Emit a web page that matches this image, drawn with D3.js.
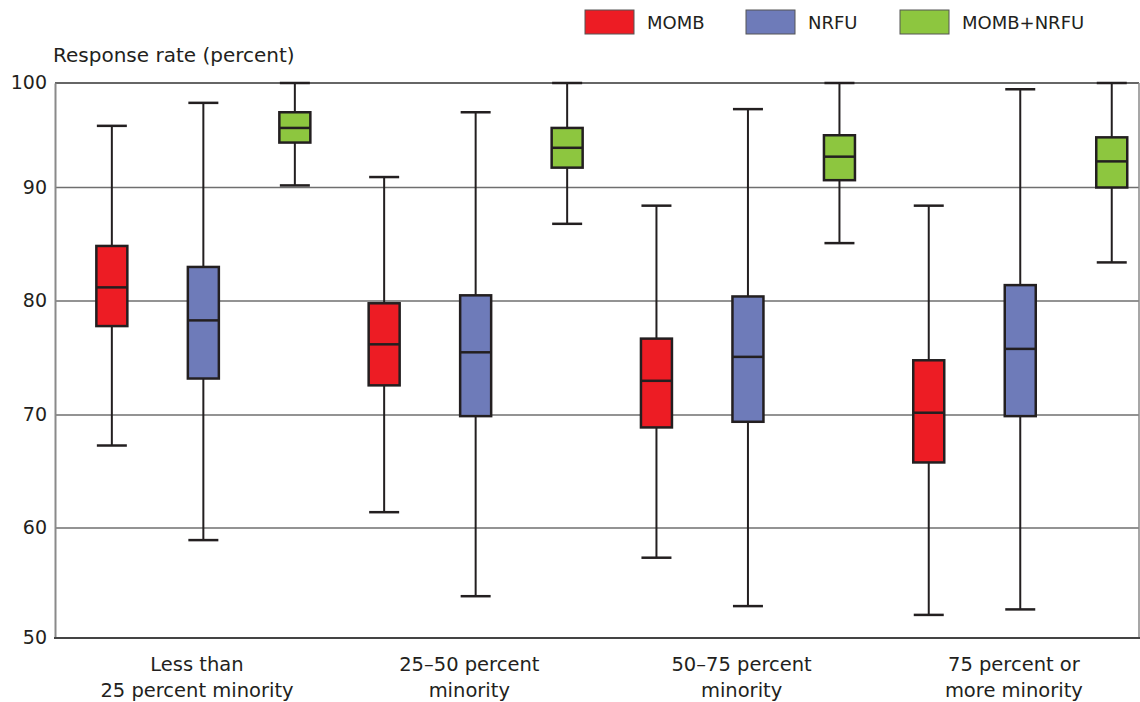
<!DOCTYPE html>
<html><head><meta charset="utf-8">
<script src="https://cdn.jsdelivr.net/npm/d3@7/dist/d3.min.js"></script>
<style>
body{margin:0;background:#fff;}
text{font-family:"DejaVu Sans",sans-serif;fill:#231F20;}
</style></head>
<body><svg id="c" width="1140" height="702"></svg>
<script>
const groups = ["Less than\n25 percent minority","25–50 percent\nminority","50–75 percent\nminority","75 percent or\nmore minority"];
const series = ["MOMB","NRFU","MOMB+NRFU"];
const colors = ["#ED1C24","#6E7BB9","#8DC63F"];
const yTicks = [50,60,70,80,90,100];
// per series: [group] -> [min, q1, median, q3, max]
const mombStats = [[67.3,77.8,81.2,84.85,95.9],[61.4,72.6,76.2,79.8,91.0],[57.3,68.9,73.0,76.7,88.4],[52.1,65.8,70.2,74.8,88.4]];
const nrfuStats = [[58.9,73.2,78.3,83.0,98.1],[53.8,69.9,75.5,80.5,97.2],[52.9,69.4,75.1,80.4,97.5],[52.6,69.9,75.8,81.4,99.4]];
const bothStats = [[90.2,94.3,95.7,97.2,100],[86.8,91.9,93.8,95.7,100],[85.1,90.7,92.95,95.0,100],[83.4,90.0,92.5,94.8,100]];
const allStats = [mombStats, nrfuStats, bothStats];

const svg = d3.select("#c");
const L = 55, R = 1139, T = 83, B = 638;
// axis as drawn in the source (gridlines not evenly spaced)
const y = d3.scaleLinear().domain([50,60,70,80,90,100]).range([638,528,415,301,187.5,83]);
const x0 = d3.scaleBand().domain(groups).range([66.85, 1156.05]).padding(0);
const x1 = d3.scalePoint().domain(series).range([45, 228]);

// gridlines
svg.append("g").selectAll("line").data(yTicks.filter(t=>t>50 && t<100)).join("line")
  .attr("x1",L).attr("x2",R).attr("y1",d=>y(d)).attr("y2",d=>y(d))
  .attr("stroke","#6f6f6f").attr("stroke-width",1.5);
svg.append("line").attr("x1",L).attr("x2",R).attr("y1",y(100)).attr("y2",y(100)).attr("stroke","#333").attr("stroke-width",1.5);
svg.append("line").attr("x1",R).attr("x2",R).attr("y1",T).attr("y2",B).attr("stroke","#8a8a8a").attr("stroke-width",1.5);

// y axis
const yAxis = svg.append("g").attr("transform",`translate(${L},0)`)
  .call(d3.axisLeft(y).tickValues(yTicks).tickSize(0).tickPadding(8).tickFormat(d3.format("d")));
yAxis.select(".domain").attr("stroke","#8a8a8a").attr("stroke-width",2);
yAxis.selectAll("text").attr("font-size",19).attr("font-family","DejaVu Sans").attr("fill","#231F20");
yAxis.selectAll("text").attr("dy","0.3em");

svg.append("line").attr("x1",L-1).attr("x2",R+1).attr("y1",B).attr("y2",B).attr("stroke","#444").attr("stroke-width",2);

svg.append("text").attr("x",53).attr("y",62).attr("font-size",20).text("Response rate (percent)");

// boxes
const bw = 31, cw = 30;
series.forEach((s,si)=>{
  const g = svg.append("g");
  allStats[si].forEach((st,gi)=>{
    const cx = x0(groups[gi]) + x1(s);
    const [mn,q1,md,q3,mx] = st;
    g.append("line").attr("x1",cx).attr("x2",cx).attr("y1",y(mx)).attr("y2",y(mn)).attr("stroke","#231F20").attr("stroke-width",2);
    g.append("line").attr("x1",cx-cw/2).attr("x2",cx+cw/2).attr("y1",y(mx)).attr("y2",y(mx)).attr("stroke","#231F20").attr("stroke-width",2.5);
    g.append("line").attr("x1",cx-cw/2).attr("x2",cx+cw/2).attr("y1",y(mn)).attr("y2",y(mn)).attr("stroke","#231F20").attr("stroke-width",2.5);
    g.append("rect").attr("x",cx-bw/2).attr("width",bw).attr("y",y(q3)).attr("height",y(q1)-y(q3))
      .attr("fill",colors[si]).attr("stroke","#231F20").attr("stroke-width",2.5);
    g.append("line").attr("x1",cx-bw/2).attr("x2",cx+bw/2).attr("y1",y(md)).attr("y2",y(md)).attr("stroke","#231F20").attr("stroke-width",2.5);
  });
});

// category labels
groups.forEach(gname=>{
  const cx = x0(gname) + x0.bandwidth()/2 - 6;
  const t = svg.append("text").attr("text-anchor","middle").attr("font-size",19.5);
  gname.split("\n").forEach((ln,i)=>{
    t.append("tspan").attr("x",cx).attr("y",671+i*26).text(ln);
  });
});

// legend
const legX = [585, 746, 900];
const lg = svg.append("g");
series.forEach((s,i)=>{
  lg.append("rect").attr("x",legX[i]).attr("y",10).attr("width",49).attr("height",24)
    .attr("fill",colors[i]).attr("stroke","#555").attr("stroke-width",1);
  lg.append("text").attr("x",legX[i]+62).attr("y",29).attr("font-size",18).text(s);
});
</script></body></html>
